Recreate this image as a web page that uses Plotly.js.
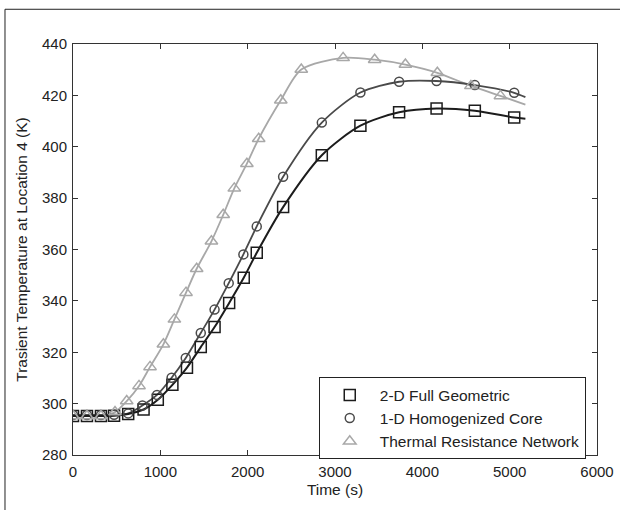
<!DOCTYPE html>
<html>
<head>
<meta charset="utf-8">
<script src="https://cdn.plot.ly/plotly-3.0.1.min.js"></script>
<style>html,body{margin:0;padding:0;background:#fff;}#chart{width:620px;height:510px;}</style>
</head>
<body>
<div id="chart"></div>
<script>
// Time (s) and temperature (K) values
const timeSquare = [0, 160, 320, 470, 632, 808, 971, 1138, 1305, 1463, 1621, 1788, 1955, 2104, 2406, 2849, 3291, 3734, 4163, 4601, 5052, 5180];
const tempSquare = [295.2, 295.2, 295.2, 295.3, 296.0, 297.7, 301.5, 307.3, 314.0, 322.0, 329.8, 339.2, 349.0, 358.7, 376.5, 396.7, 408.2, 413.4, 414.9, 414.0, 411.4, 410.9];

const timeCircle = [0, 160, 320, 470, 632, 795, 962, 1129, 1291, 1463, 1621, 1783, 1951, 2104, 2406, 2849, 3291, 3734, 4163, 4601, 5052, 5180];
const tempCircle = [295.6, 295.6, 295.6, 295.7, 296.2, 299.3, 303.4, 310.1, 317.8, 327.5, 336.6, 346.9, 358.1, 369.0, 388.3, 409.4, 421.1, 425.3, 425.6, 424.0, 421.0, 419.3];

const timeTriangle = [0, 160, 320, 481, 615, 756, 882, 1035, 1161, 1294, 1416, 1585, 1720, 1847, 1991, 2126, 2379, 2614, 3093, 3454, 3806, 4172, 4556, 4894, 5180];
const tempTriangle = [295.2, 295.2, 295.2, 296.7, 301.0, 306.9, 314.3, 323.1, 332.8, 343.2, 352.5, 363.2, 373.5, 383.8, 393.4, 403.1, 418.1, 430.1, 434.6, 433.9, 432.0, 428.8, 423.7, 419.8, 416.4];

const seriesNames = ["2-D Full Geometric", "1-D Homogenized Core", "Thermal Resistance Network"];
const xTicks = [0, 1000, 2000, 3000, 4000, 5000, 6000];
const yTicks = [280, 300, 320, 340, 360, 380, 400, 420, 440];

const colors = ["#1c1c1c", "#4a4a4a", "#a8a8a8"];
const symbols = ["square-open", "circle-open", "triangle-up-open"];
const xs = [timeSquare, timeCircle, timeTriangle];
const ys = [tempSquare, tempCircle, tempTriangle];
const lineWidths = [2, 1.8, 1.8];
const markerSizes = [11, 9, 11];

const traces = [];
for (let i = 2; i >= 0; i--) {
  traces.push({
    x: xs[i], y: ys[i], type: "scatter", mode: "lines",
    line: {color: colors[i], width: lineWidths[i], shape: "spline", smoothing: 0.8},
    showlegend: false, hoverinfo: "skip"
  });
}
for (let i = 0; i < 3; i++) {
  traces.push({
    x: xs[i].slice(0, -1), y: ys[i].slice(0, -1), type: "scatter", mode: "markers",
    name: seriesNames[i],
    marker: {symbol: symbols[i], size: markerSizes[i], color: colors[i], line: {width: 1.5, color: colors[i]}},
    legendrank: i
  });
}

const fam = "Liberation Sans, Arial, sans-serif";
const tickFont = {family: fam, size: 15, color: "#222"};
const titleFont = {family: fam, size: 15.5, color: "#222"};

const axisCommon = {
  showgrid: false, zeroline: false, showline: true, linecolor: "#333", linewidth: 1,
  mirror: "ticks", ticks: "inside", ticklen: 5, tickcolor: "#333", tickwidth: 1,
  tickfont: tickFont
};

const layout = {
  width: 620, height: 510,
  margin: {l: 73, r: 23, t: 44, b: 55},
  paper_bgcolor: "#fff", plot_bgcolor: "#fff",
  font: tickFont,
  showlegend: true,
  legend: {
    x: 0.469, y: 0.189, xanchor: "left", yanchor: "top",
    bgcolor: "#fff", bordercolor: "#222", borderwidth: 1,
    font: {family: fam, size: 15.5, color: "#222"},
    itemwidth: 50, traceorder: "normal"
  },
  xaxis: Object.assign({}, axisCommon, {
    range: [0, 6000], tickvals: xTicks, ticktext: xTicks.map(String),
    ticklabelstandoff: 3,
    title: {text: "Time (s)", font: titleFont, standoff: 5}
  }),
  yaxis: Object.assign({}, axisCommon, {
    range: [280, 440], tickvals: yTicks, ticktext: yTicks.map(String),
    ticklabelstandoff: 2,
    title: {text: "Trasient Temperature at Location 4 (K)", font: titleFont, standoff: 10}
  }),
  shapes: [
    {type: "line", xref: "paper", yref: "paper", x0: -0.1298, x1: -0.1298, y0: 1.0845, y1: -0.2,
     line: {color: "#222", width: 1}},
    {type: "line", xref: "paper", yref: "paper", x0: -0.1298, x1: 1.2, y0: 1.0845, y1: 1.0845,
     line: {color: "#222", width: 1}}
  ]
};

Plotly.newPlot("chart", traces, layout, {displayModeBar: false, staticPlot: true});
</script>
</body>
</html>
